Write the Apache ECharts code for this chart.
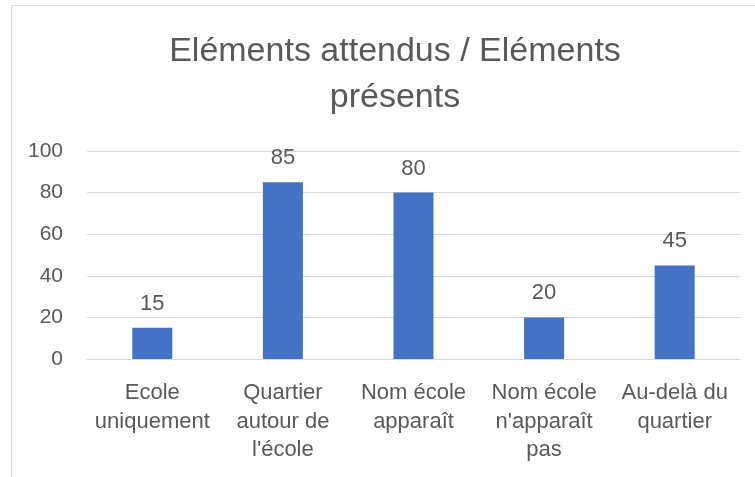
<!DOCTYPE html>
<html>
<head>
<meta charset="utf-8">
<script src="https://cdn.jsdelivr.net/npm/echarts@6/dist/echarts.min.js"></script>
<style>
html,body{margin:0;padding:0;background:#fff;}
#chart{width:755px;height:477px;}
</style>
</head>
<body>
<div id="chart"></div>
<script>
const chartTitle = "Eléments attendus / Eléments\nprésents";
const categories = ["Ecole\nuniquement", "Quartier\nautour de\nl'école", "Nom école\napparaît", "Nom école\nn'apparaît\npas", "Au-delà du\nquartier"];
const values = [15, 85, 80, 20, 45];
const yTicks = { min: 0, max: 100, interval: 20 };

const FONT = "'Liberation Sans', Arial, sans-serif";
const TXT = "#595959";
const chart = echarts.init(document.getElementById('chart'), null, { renderer: 'canvas' });
chart.setOption({
  animation: false,
  backgroundColor: '#ffffff',
  graphic: [{
    type: 'rect',
    shape: { x: 11.5, y: 5.5, width: 800, height: 500 },
    style: { fill: 'none', stroke: '#d9d9d9', lineWidth: 1 },
    silent: true, z: -1
  }],
  title: {
    text: chartTitle,
    left: 390,
    top: 24,
    textAlign: 'center',
    textStyle: { fontFamily: FONT, fontSize: 34, fontWeight: 'normal', color: TXT, lineHeight: 46 }
  },
  grid: { left: 87, right: 15, top: 151, bottom: 118, containLabel: false },
  xAxis: {
    type: 'category',
    data: categories,
    axisLine: { show: true, lineStyle: { color: '#d9d9d9', width: 1 } },
    axisTick: { show: false },
    axisLabel: { interval: 0, margin: 20, fontFamily: FONT, fontSize: 22, color: TXT, lineHeight: 28.5 }
  },
  yAxis: {
    type: 'value',
    min: yTicks.min, max: yTicks.max, interval: yTicks.interval,
    axisLine: { show: false },
    axisTick: { show: false },
    splitLine: { lineStyle: { color: '#d9d9d9', width: 1 } },
    axisLabel: { margin: 24, fontFamily: FONT, fontSize: 21, color: TXT }
  },
  series: [{
    type: 'bar',
    data: values,
    barWidth: 40,
    itemStyle: { color: '#4472C4' },
    label: { show: true, position: 'top', distance: 13, fontFamily: FONT, fontSize: 22, color: TXT }
  }]
});
</script>
</body>
</html>
